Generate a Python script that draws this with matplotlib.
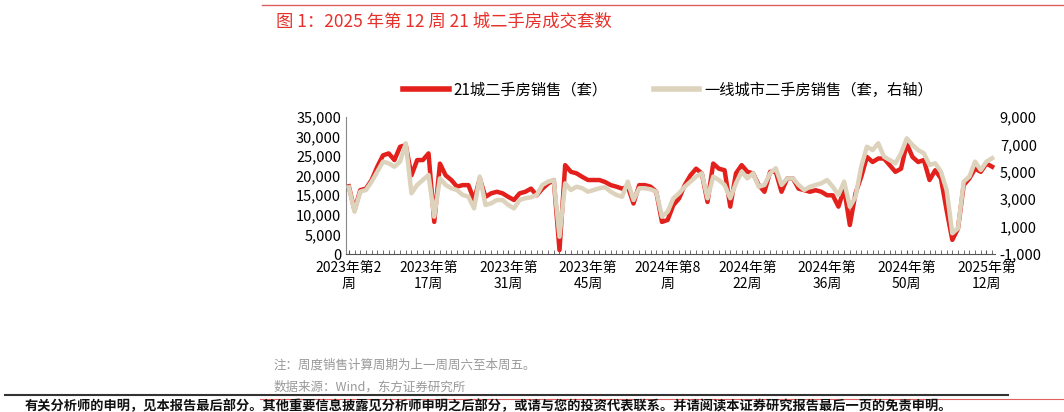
import matplotlib
matplotlib.use("Agg")
import matplotlib.pyplot as plt
from matplotlib.lines import Line2D

plt.rcParams['font.family'] = ['Noto Sans CJK SC', 'DejaVu Sans']

red_21 = [17300, 11200, 16300, 16700, 18900, 22300, 25200, 25700, 24000, 27400,
          27800, 20100, 24000, 24000, 25700, 8200, 23100, 20100, 18900, 17200,
          17600, 17600, 13800, 19300, 14600, 15500, 15900, 15500, 14600, 13800,
          15500, 15900, 16700, 15000, 16700, 18000, 18900, 1000, 22700, 21000,
          20600, 19700, 18900, 18900, 18900, 18400, 17600, 17200, 16700, 17200,
          12900, 17600, 17600, 17200, 15900, 8200, 8700, 12500, 14200, 17600,
          20100, 21800, 20600, 13300, 23100, 21800, 21400, 12100, 20600, 22700,
          21000, 20600, 17600, 15900, 21000, 21000, 15900, 19300, 19300, 16700,
          16300, 15900, 16300, 15900, 15000, 15000, 12100, 16700, 7400, 15500,
          19700, 24800, 23500, 24400, 24400, 22700, 21000, 21800, 28200, 24800,
          23500, 24000, 18900, 21400, 19300, 11200, 3600, 6500, 17600, 19300,
          21800, 21000, 23100, 22300]
tier1 = [3870, 2090, 3550, 3670, 4280, 5010, 5740, 5620, 5370, 5740,
         7080, 3430, 4040, 4400, 4770, 1720, 4520, 4040, 3800, 3670,
         3310, 3180, 2330, 4650, 2580, 2700, 2940, 2940, 2580, 2330,
         2940, 3070, 3140, 3310, 4040, 4280, 4400, 260, 4160, 3670,
         3910, 3800, 3550, 3670, 3800, 3870, 3550, 3310, 3180, 4280,
         2940, 3800, 3800, 3720, 3550, 1720, 2090, 3070, 3430, 3910,
         4280, 4650, 4890, 3070, 4650, 4400, 4040, 3070, 4160, 5010,
         4520, 4890, 3910, 4040, 4890, 5260, 4040, 4520, 4520, 4040,
         3670, 3910, 4040, 4160, 4400, 3910, 3310, 4280, 2450, 3180,
         5370, 6830, 6590, 7080, 6100, 5860, 5620, 6350, 7440, 6960,
         6590, 6350, 5500, 5620, 5010, 3670, 510, 880, 4280, 4650,
         5740, 5130, 5740, 5990]
tick_labels = ["2023年第2\n周", "2023年第\n17周", "2023年第\n31周", "2023年第\n45周",
               "2024年第8\n周", "2024年第\n22周", "2024年第\n36周", "2024年第\n50周",
               "2025年第\n12周"]
tick_pos = [0, 14, 28, 42, 56, 70, 84, 98, 112]

RED = "#e3201b"
BEIGE = "#ddd3bc"

fig = plt.figure(figsize=(10.64, 4.12), dpi=100)
W, H = 1064, 412
ax = fig.add_axes([346 / W, 1 - 254 / H, (995 - 346) / W, (254 - 117) / H])
ax2 = ax.twinx()
x = list(range(len(red_21)))
ax.plot(x, red_21, color=RED, lw=3.2)
ax2.plot(x, tier1, color=BEIGE, lw=3.2)

ax.set_xlim(-0.5, len(x) - 0.5)
ax.set_ylim(0, 35000)
ax.set_yticks(range(0, 35001, 5000))
ax.set_yticklabels([f"{v:,}" for v in range(0, 35001, 5000)])
ax2.set_ylim(-1000, 9000)
ax2.set_yticks(range(-1000, 9001, 2000))
ax2.set_yticklabels([f"{v:,}" for v in range(-1000, 9001, 2000)])
ax.set_xticks(x, minor=True)
ax.set_xticks(tick_pos)
ax.set_xticklabels(tick_labels, fontsize=10)
ax.tick_params(axis='x', which='both', length=3, color="#555555", direction='in')
ax.tick_params(axis='x', which='major', pad=5)
for a in (ax, ax2):
    a.tick_params(axis='y', length=0, labelsize=10.5)
    for s in a.spines.values():
        s.set_visible(False)
ax.spines['bottom'].set_visible(True)
ax.spines['bottom'].set_color("#555555")
ax.spines['left'].set_visible(True)
ax.spines['left'].set_color("#888888")

fig.legend([Line2D([], [], color=RED, lw=4), Line2D([], [], color=BEIGE, lw=4)],
           ["21城二手房销售（套）", "一线城市二手房销售（套，右轴）"],
           loc='center', bbox_to_anchor=(668 / W, 1 - 90 / H), ncol=2, frameon=False,
           fontsize=11, handlelength=3, columnspacing=3, handletextpad=0.3)

fig.add_artist(Line2D([262 / W, 1], [1 - 5 / H, 1 - 5 / H], color="#e06060", lw=1))
fig.text(276 / W, 1 - 22 / H, "图 1：2025 年第 12 周 21 城二手房成交套数", color="#e8302a",
         fontsize=12.5, va='center', ha='left')
fig.text(274 / W, 1 - 365 / H, "注：周度销售计算周期为上一周周六至本周五。", color="#999999",
         fontsize=9, va='center')
fig.text(274 / W, 1 - 387 / H, "数据来源：Wind，东方证券研究所", color="#999999",
         fontsize=9, va='center')
fig.add_artist(Line2D([5 / W, 1008 / W], [1 - 395 / H, 1 - 395 / H], color="#333333", lw=1.5))
fig.add_artist(Line2D([260 / W, 1], [1 - 399 / H, 1 - 399 / H], color="#e06060", lw=0.8))
fig.text(25 / W, 1 - 406 / H,
         "有关分析师的申明，见本报告最后部分。其他重要信息披露见分析师申明之后部分，或请与您的投资代表联系。并请阅读本证券研究报告最后一页的免责申明。",
         color="#111111", fontsize=9.5, va='center', fontweight='bold')

fig.savefig("out.png", dpi=100)
